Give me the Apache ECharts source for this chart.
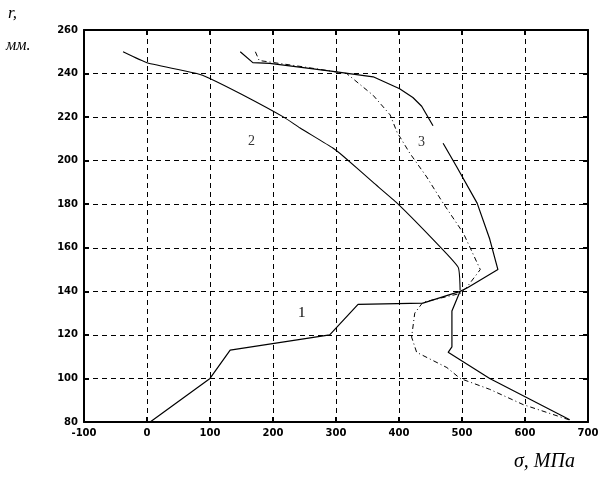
<!DOCTYPE html>
<html>
<head>
<meta charset="utf-8">
<script src="https://cdn.jsdelivr.net/npm/echarts@6/dist/echarts.min.js"></script>
<style>
html, body { margin: 0; padding: 0; background: #fff; }
#chart { width: 606px; height: 484px; }
</style>
</head>
<body>
<div id="chart"></div>
<script>
// stress sigma (MPa) vs radius r (mm)
const curve1 = [[5, 80], [100, 100], [132, 113], [290, 120], [335, 134], [438, 134.6], [497, 140]];
const curve2 = [[-38, 250], [0, 245], [79, 240], [98, 238], [150, 230.5], [217, 220], [243, 215],
  [295, 205.8], [313, 201.7], [359, 190], [397, 180.5], [460, 162], [494, 151], [497, 140.6]];
const curve3 = [[148, 250], [168, 245], [195, 244.7], [295, 241], [359, 238.5], [401, 233],
  [422, 229], [436, 225], [454, 216], '-', [470, 208], [492, 197], [524, 180.5], [544, 164],
  [557, 150], [508, 141.5], [497, 140], [484, 131], [484, 114.5], [478, 112],
  [544, 100], [671, 81]];
const curve3b = [[172, 250], [178, 246], [250, 243], [317, 240], [359, 230], [386, 221],
  [397, 213], [417, 203.5], [444, 192.5], [470, 180.5], [502, 166.8], [529, 150], [508, 142],
  [497, 139], [438, 135], [425, 130], [420, 119], [428, 112], [476, 105], [497, 100],
  [544, 95], [597, 88], [670, 81]];
const xTicks = [-100, 700, 100];
const yTicks = [80, 260, 20];

const myChart = echarts.init(document.getElementById('chart'));

const gridDash = { show: true, lineStyle: { color: '#000', type: [5, 4], width: 1 } };
const frame = { show: true, onZero: false, lineStyle: { color: '#000', width: 2 } };
const tickIn = { show: true, inside: true, length: 5, lineStyle: { color: '#000', width: 2 } };
const lbl = { color: '#000', fontFamily: 'DejaVu Sans', fontWeight: 'bold', fontSize: 10 };

const option = {
  animation: false,
  backgroundColor: '#fff',
  grid: { left: 84, right: 18, top: 30, bottom: 62 },
  xAxis: [
    {
      type: 'value', min: xTicks[0], max: xTicks[1], interval: xTicks[2],
      axisLine: frame, axisTick: tickIn, splitLine: gridDash,
      axisLabel: Object.assign({ margin: 6 }, lbl)
    },
    {
      type: 'value', position: 'top', min: xTicks[0], max: xTicks[1], interval: xTicks[2],
      axisLine: frame, axisTick: tickIn, splitLine: { show: false }, axisLabel: { show: false }
    }
  ],
  yAxis: [
    {
      type: 'value', min: yTicks[0], max: yTicks[1], interval: yTicks[2],
      axisLine: frame, axisTick: tickIn, splitLine: gridDash,
      axisLabel: Object.assign({ margin: 6 }, lbl)
    },
    {
      type: 'value', position: 'right', min: yTicks[0], max: yTicks[1], interval: yTicks[2],
      axisLine: frame, axisTick: tickIn, splitLine: { show: false }, axisLabel: { show: false }
    }
  ],
  series: [
    { name: '1', type: 'line', data: curve1, showSymbol: false, lineStyle: { color: '#000', width: 1.2 } },
    { name: '2', type: 'line', data: curve2, showSymbol: false, smooth: 0.15, lineStyle: { color: '#000', width: 1.1 } },
    { name: '3', type: 'line', data: curve3, showSymbol: false, connectNulls: false, lineStyle: { color: '#000', width: 1.2 } },
    { name: '3b', type: 'line', data: curve3b, showSymbol: false, lineStyle: { color: '#000', width: 1, type: [5, 3, 1, 3] } }
  ],
  graphic: [
    { type: 'text', left: 8, top: 5, style: { text: 'r,', font: 'italic 17px "Liberation Serif"', fill: '#000' } },
    { type: 'text', left: 6, top: 38, style: { text: 'мм.', font: 'italic 16px "Liberation Serif"', fill: '#000' } },
    { type: 'text', left: 514, top: 452, style: { text: 'σ, МПа', font: 'italic 20px "Liberation Serif"', fill: '#000' } },
    { type: 'text', left: 298, top: 306, style: { text: '1', font: '15px "Liberation Serif"', fill: '#000' } },
    { type: 'text', left: 248, top: 134, style: { text: '2', font: '14px "Liberation Serif"', fill: '#333' } },
    { type: 'text', left: 418, top: 135, style: { text: '3', font: '14px "Liberation Serif"', fill: '#333' } }
  ]
};
option && myChart.setOption(option);
</script>
</body>
</html>
